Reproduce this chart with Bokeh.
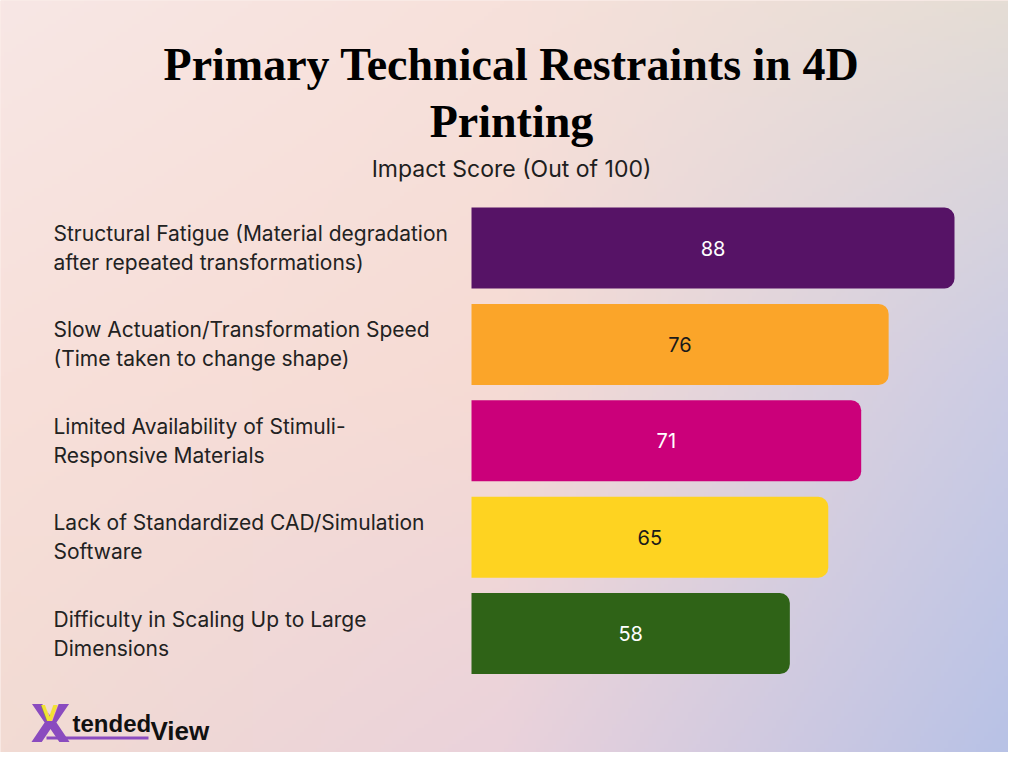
import numpy as np
from bokeh.plotting import figure
from bokeh.models import Range1d, Label, BoxAnnotation, ColumnDataSource
from bokeh.core.properties import value
from bokeh.embed import file_html
from bokeh.resources import INLINE

# ---- data ----
categories = [
    "Structural Fatigue (Material degradation\nafter repeated transformations)",
    "Slow Actuation/Transformation Speed\n(Time taken to change shape)",
    "Limited Availability of Stimuli-\nResponsive Materials",
    "Lack of Standardized CAD/Simulation\nSoftware",
    "Difficulty in Scaling Up to Large\nDimensions",
]
scores = [88, 76, 71, 65, 58]
bar_colors = ["#561366", "#FBA529", "#CB007A", "#FED321", "#2F6317"]
value_text_colors = ["#FFFFFF", "#1a1a1a", "#FFFFFF", "#1a1a1a", "#FFFFFF"]
title_lines = ["Primary Technical Restraints in 4D", "Printing"]
subtitle = "Impact Score (Out of 100)"

# ---- layout geometry (pixels within the figure) ----
W, H = 1008, 752
bar_left_px = 471
px_per_unit = (954 - 471) / 88.0
row_pitch_px = 96.4
first_center_px = 247.5
label_left_px = 53

x_start = -bar_left_px / px_per_unit
x_end = x_start + W / px_per_unit
y_end = first_center_px / row_pitch_px
y_start = y_end - H / row_pitch_px

y_pos = [-i for i in range(len(scores))]
label_x = x_start + label_left_px / px_per_unit

p = figure(width=W, height=H, output_backend="svg", toolbar_location=None,
           x_range=Range1d(x_start, x_end), y_range=Range1d(y_start, y_end),
           x_axis_type=None, y_axis_type=None, min_border=0)
p.grid.visible = False
p.outline_line_color = None
p.background_fill_color = "#f7dcd3"
p.border_fill_color = "#f7dcd3"

# ---- background gradient (decoration) ----
grid_cols = np.array([
    [[248, 231, 229], [247, 225, 219], [229, 221, 213]],
    [[248, 224, 218], [246, 219, 212], [204, 204, 228]],
    [[242, 219, 211], [234, 210, 219], [184, 194, 230]],
], dtype=float)
gh, gw = 188, 252
yy = np.linspace(0, 2, gh)[:, None]
xx = np.linspace(0, 2, gw)[None, :]
iy = np.clip(np.floor(yy).astype(int), 0, 1)
ix = np.clip(np.floor(xx).astype(int), 0, 1)
fy = (yy - iy)[..., None]
fx = (xx - ix)[..., None]
IY = np.broadcast_to(iy, (gh, gw))
IX = np.broadcast_to(ix, (gh, gw))
c00 = grid_cols[IY, IX]
c01 = grid_cols[IY, IX + 1]
c10 = grid_cols[IY + 1, IX]
c11 = grid_cols[IY + 1, IX + 1]
col = (c00 * (1 - fx) * (1 - fy) + c01 * fx * (1 - fy) + c10 * (1 - fx) * fy + c11 * fx * fy)
img = np.empty((gh, gw), dtype=np.uint32)
view = img.view(dtype=np.uint8).reshape((gh, gw, 4))
view[..., 0] = col[..., 0].astype(np.uint8)
view[..., 1] = col[..., 1].astype(np.uint8)
view[..., 2] = col[..., 2].astype(np.uint8)
view[..., 3] = 255
img = img[::-1]
p.image_rgba(image=[img], x=x_start, y=y_start, dw=x_end - x_start, dh=y_end - y_start)

# ---- bars ----
src = ColumnDataSource(dict(y=y_pos, score=scores, color=bar_colors,
                            half=[s / 2 for s in scores], txt=[str(s) for s in scores],
                            tcolor=value_text_colors, cat=categories,
                            lx=[label_x] * len(scores)))
p.hbar(y="y", left=0, right="score", height=0.84, fill_color="color", line_color=None,
       border_radius=(0, 10, 10, 0), source=src)
p.text(x="half", y="y", text="txt", text_color="tcolor", text_align="center",
       text_baseline="middle", text_font=value("Inter"), text_font_size="20px", source=src)
p.text(x="lx", y="y", text="cat", text_color="#222222", text_align="left",
       text_baseline="middle", text_font=value("Inter"), text_font_size="21px",
       text_line_height=1.16, source=src)

# ---- titles ----
def screen_label(x, y_from_top, text, **kw):
    p.add_layout(Label(x=x, y=H - y_from_top, x_units="screen", y_units="screen",
                       text=text, text_baseline="middle", **kw))

screen_label(511, 64, title_lines[0], text_align="center", text_font="Liberation Serif",
             text_font_style="bold", text_font_size="46px", text_color="#000000")
screen_label(511, 121, title_lines[1], text_align="center", text_font="Liberation Serif",
             text_font_style="bold", text_font_size="46px", text_color="#000000")
screen_label(511, 168, subtitle, text_align="center", text_font="Inter",
             text_font_size="23px", text_color="#1e1e1e")

# ---- logo ----
p.add_layout(BoxAnnotation(left=46, right=148, bottom=H - 739, top=H - 736,
                           left_units="screen", right_units="screen",
                           bottom_units="screen", top_units="screen",
                           fill_color="#8a4bbf", fill_alpha=1, line_color=None))
screen_label(50, 723, "X", text_align="center", text_font="DejaVu Sans",
             text_font_style="bold", text_font_size="52px", text_color="#8a4bbf")
screen_label(49, 713, "V", text_align="center", text_font="DejaVu Sans",
             text_font_style="bold", text_font_size="22px", text_color="#f2e233")
screen_label(72, 723, "tended", text_align="left", text_font="Liberation Sans",
             text_font_style="bold", text_font_size="24px", text_color="#111111")
screen_label(150, 730, "View", text_align="left", text_font="Liberation Sans",
             text_font_style="bold", text_font_size="26px", text_color="#111111")

open("out.html", "w").write(file_html(p, INLINE))
